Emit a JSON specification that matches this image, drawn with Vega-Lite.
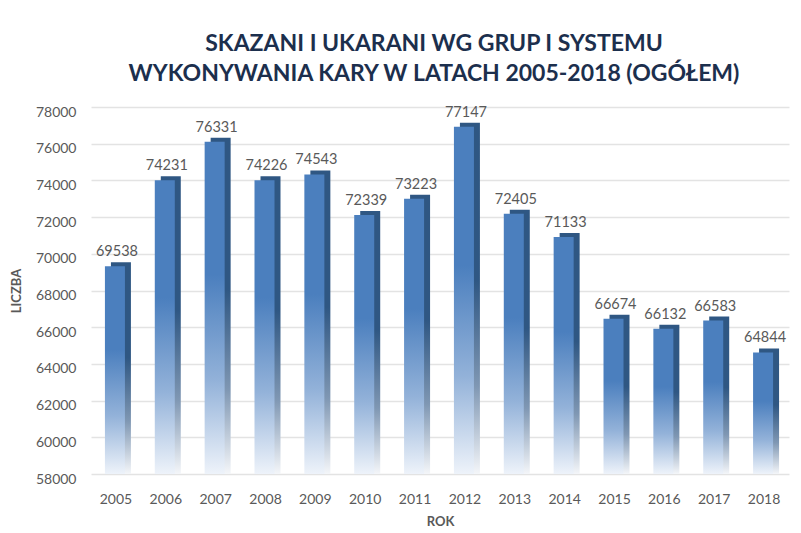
{
  "$schema": "https://vega.github.io/schema/vega-lite/v6.json",
  "width": 698,
  "height": 367,
  "autosize": {"type": "none"},
  "padding": {"left": 91, "top": 107, "right": 12, "bottom": 59},
  "background": "white",
  "config": {"view": {"stroke": null}, "font": "Lato"},
  "title": {
    "text": ["SKAZANI I UKARANI WG GRUP I SYSTEMU", "WYKONYWANIA KARY W LATACH 2005-2018 (OGÓŁEM)"],
    "font": "Lato",
    "fontSize": 23,
    "fontWeight": "bold",
    "color": "#1c2f4d",
    "anchor": "middle",
    "dx": -6,
    "lineHeight": 30,
    "offset": 19
  },
  "data": {
    "values": [
      {"rok": "2005", "liczba": 69538},
      {"rok": "2006", "liczba": 74231},
      {"rok": "2007", "liczba": 76331},
      {"rok": "2008", "liczba": 74226},
      {"rok": "2009", "liczba": 74543},
      {"rok": "2010", "liczba": 72339},
      {"rok": "2011", "liczba": 73223},
      {"rok": "2012", "liczba": 77147},
      {"rok": "2013", "liczba": 72405},
      {"rok": "2014", "liczba": 71133},
      {"rok": "2015", "liczba": 66674},
      {"rok": "2016", "liczba": 66132},
      {"rok": "2017", "liczba": 66583},
      {"rok": "2018", "liczba": 64844}
    ]
  },
  "encoding": {
    "x": {
      "field": "rok",
      "type": "ordinal",
      "scale": {"paddingInner": 0.5, "paddingOuter": 0.25},
      "axis": {
        "title": "ROK",
        "titleFont": "Lato",
        "titleFontSize": 13,
        "titleFontWeight": "bold",
        "titleColor": "#595959",
        "titlePadding": 9,
        "labelAngle": 0,
        "labelFont": "Lato",
        "labelFontSize": 14,
        "labelColor": "#595959",
        "labelPadding": 18,
        "ticks": false,
        "domain": false,
        "grid": false
      }
    },
    "y": {
      "field": "liczba",
      "type": "quantitative",
      "scale": {"domain": [58000, 78000], "nice": false, "zero": false},
      "axis": {
        "title": "LICZBA",
        "titleFont": "Lato",
        "titleFontSize": 13,
        "titleFontWeight": "bold",
        "titleColor": "#595959",
        "titlePadding": 12,
        "values": [58000, 60000, 62000, 64000, 66000, 68000, 70000, 72000, 74000, 76000, 78000],
        "format": "d",
        "labelFont": "Lato",
        "labelFontSize": 14,
        "labelColor": "#595959",
        "labelPadding": 15,
        "labelOffset": 5,
        "ticks": false,
        "domain": false,
        "grid": true,
        "gridColor": "#e3e3e3",
        "gridWidth": 1.5
      }
    }
  },
  "layer": [
    {
      "mark": {
        "type": "bar",
        "width": 20,
        "xOffset": 5,
        "clip": true,
        "color": {
          "gradient": "linear",
          "x1": 0, "y1": 0, "x2": 0, "y2": 1,
          "stops": [
            {"offset": 0, "color": "#2f5783"},
            {"offset": 0.45, "color": "#2f5783"},
            {"offset": 0.75, "color": "#7f97b3"},
            {"offset": 1, "color": "#f4f6f9"}
          ]
        }
      },
      "encoding": {"y2": {"datum": 58000}}
    },
    {
      "mark": {
        "type": "bar",
        "width": 20,
        "xOffset": -1,
        "yOffset": 4,
        "clip": true,
        "color": {
          "gradient": "linear",
          "x1": 0, "y1": 0, "x2": 0, "y2": 1,
          "stops": [
            {"offset": 0, "color": "#4b7fbe"},
            {"offset": 0.4, "color": "#4b7fbe"},
            {"offset": 0.72, "color": "#93b2d9"},
            {"offset": 1, "color": "#eef3fa"}
          ]
        }
      },
      "encoding": {"y2": {"datum": 58000}}
    },
    {
      "mark": {
        "type": "text",
        "font": "Lato",
        "fontSize": 14.5,
        "color": "#595959",
        "baseline": "middle",
        "dy": -10,
        "dx": 1
      },
      "encoding": {"text": {"field": "liczba", "type": "quantitative", "format": "d"}}
    }
  ]
}
